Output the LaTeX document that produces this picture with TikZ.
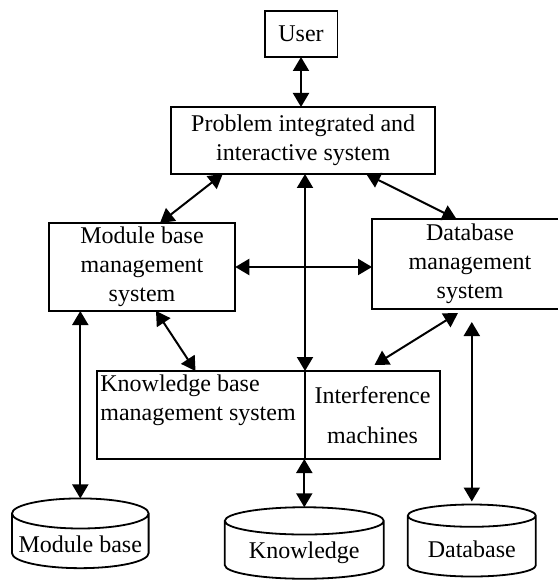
\documentclass[tikz,border=0pt]{standalone}
\usepackage{fontspec}
\setmainfont{Liberation Serif}
\usetikzlibrary{calc,positioning,shapes.geometric}
\usetikzlibrary{arrows.meta}
\tikzset{>={Triangle[length=7pt,width=8pt]}}

\begin{document}
\begin{tikzpicture}[x=0.5pt,y=-0.5pt,font=\fontsize{12}{14.5}\selectfont]
    \tikzstyle{box} = [draw, rectangle, line width=0.9pt, align=center, inner sep=2pt, outer sep=0pt]
    \tikzstyle{store} = [draw, cylinder, shape border rotate=90, aspect=0.22, line width=0.9pt, outer sep=0pt, align=center]
    \tikzstyle{link} = [<->, line width=1pt]

    \useasboundingbox (0,0) rectangle (557,587);

    \node[box, minimum width=36.4pt, minimum height=23pt] (user) at (301,34) {User};
    \node[box, minimum width=132pt, minimum height=33.5pt] (prob) at (303.2,140.5) {Problem integrated and\\interactive system};
    \node[box, minimum width=93.25pt, minimum height=44pt] (mbms) at (142,267) {Module base\\management\\system};
    \node[box, minimum width=98pt, minimum height=45pt] (dbms) at (470,264) {Database\\management\\system};

    \node[box, minimum width=104pt, minimum height=44pt] (kbms) at (201,415) {};
    \node[anchor=north west, align=left, inner sep=1.5pt] (kbtext) at (kbms.north west) {Knowledge base\\management system};
    \node[box, right=0pt of kbms, minimum width=67.5pt, minimum height=44pt] (inf) {Interference\\[5.5pt]machines};

    \node[store, minimum width=67pt, minimum height=32.5pt] (modb) at (80.3,544.5) {Module base};
    \node[store, minimum width=79.5pt, minimum height=32pt] (know) at (304.3,553) {\raisebox{-3pt}{Knowledge}};
    \node[store, minimum width=64pt, minimum height=36pt] (datab) at (471.8,549) {Database};

    \draw[link] (user.south) -- (user.south |- prob.north);
    \draw[link] ($(prob.south west)+(51.5,0)$) -- ($(mbms.north)+(18,0)$);
    \draw[link] ($(prob.south east)+(-69,0)$) -- ($(dbms.north)+(-13.5,0)$);
    \draw[link] (mbms.east) -- (mbms.east -| dbms.west);
    \draw[link] (kbms.north east |- prob.south) -- (kbms.north east);
    \draw[link] ($(mbms.south)+(14,0)$) -- ($(kbms.north)+(-5.5,0)$);
    \draw[link] ($(dbms.south)+(-12,4)$) -- ($(inf.north)+(2,-6)$);

    % stores
    \draw[link] (modb.north |- mbms.south) -- (modb.north);
    \draw[link] (know.north |- kbms.south) -- (know.north);
    \draw[link] ($(datab.north |- dbms.south)+(0,13)$) -- ($(datab.north)+(0,-3)$);
\end{tikzpicture}
\end{document}
